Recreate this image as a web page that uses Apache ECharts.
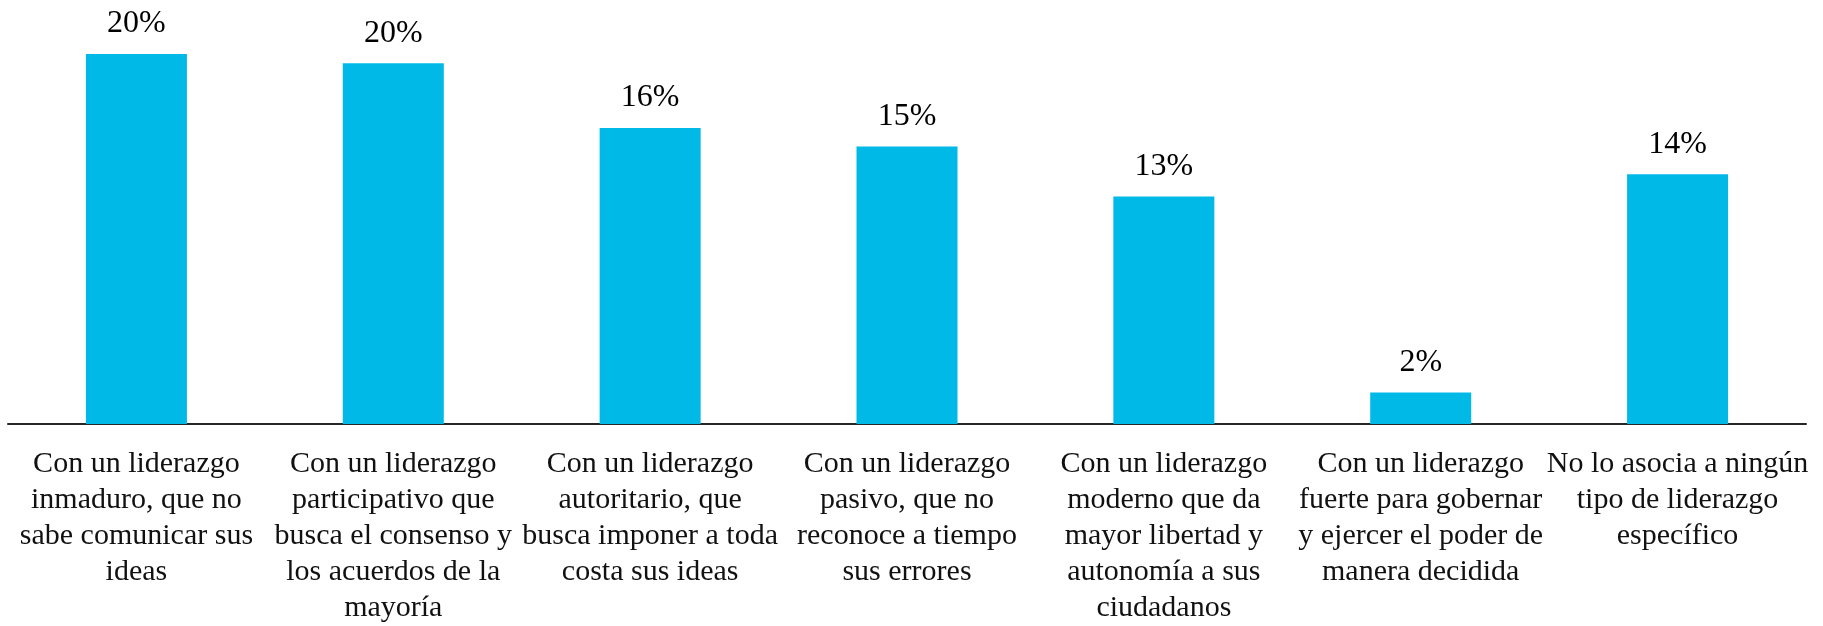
<!DOCTYPE html>
<html>
<head>
<meta charset="utf-8">
<script src="https://cdn.jsdelivr.net/npm/echarts@6/dist/echarts.min.js"></script>
<style>
  html, body { margin: 0; padding: 0; background: #fff; }
  #chart { width: 1823px; height: 626px; }
</style>
</head>
<body>
<div id="chart"></div>
<script>
// categorias (saltos de linea como en la imagen)
var categories = [
  "Con un liderazgo\ninmaduro, que no\nsabe comunicar sus\nideas",
  "Con un liderazgo\nparticipativo que\nbusca el consenso y\nlos acuerdos de la\nmayoría",
  "Con un liderazgo\nautoritario, que\nbusca imponer a toda\ncosta sus ideas",
  "Con un liderazgo\npasivo, que no\nreconoce a tiempo\nsus errores",
  "Con un liderazgo\nmoderno que da\nmayor libertad y\nautonomía a sus\nciudadanos",
  "Con un liderazgo\nfuerte para gobernar\ny ejercer el poder de\nmanera decidida",
  "No lo asocia a ningún\ntipo de liderazgo\nespecífico"
];
// alto de barras
var values = [20.0, 19.5, 16.0, 15.0, 12.3, 1.7, 13.5];
// etiquetas mostradas
var valueLabels = ["20%", "20%", "16%", "15%", "13%", "2%", "14%"];

var chart = echarts.init(document.getElementById("chart"));
var option = {
  animation: false,
  grid: {
    left: 8,
    right: 17,
    top: 17,
    bottom: 196,
  },
  xAxis: {
    type: "category",
    data: categories,
    axisTick: { show: false },
    axisLine: {
      show: true,
      lineStyle: { color: "#262626", width: 2 },
    },
    axisLabel: {
      interval: 0,
      margin: 22,
      color: "#111",
      fontFamily: "Liberation Serif",
      fontSize: 30,
      lineHeight: 36,
      align: "center",
    },
  },
  yAxis: {
    type: "value",
    min: 0,
    max: 22,
    show: false,
    splitLine: { show: false },
  },
  series: [
    {
      type: "bar",
      data: values,
      barWidth: 101,
      itemStyle: { color: "#00b9e7" },
      label: {
        show: true,
        position: "top",
        distance: 14,
        color: "#000",
        fontFamily: "Liberation Serif",
        fontSize: 32,
        formatter: function (p) {
          return valueLabels[p.dataIndex];
        },
      },
    },
  ],
};
chart.setOption(option);
</script>
</body>
</html>
